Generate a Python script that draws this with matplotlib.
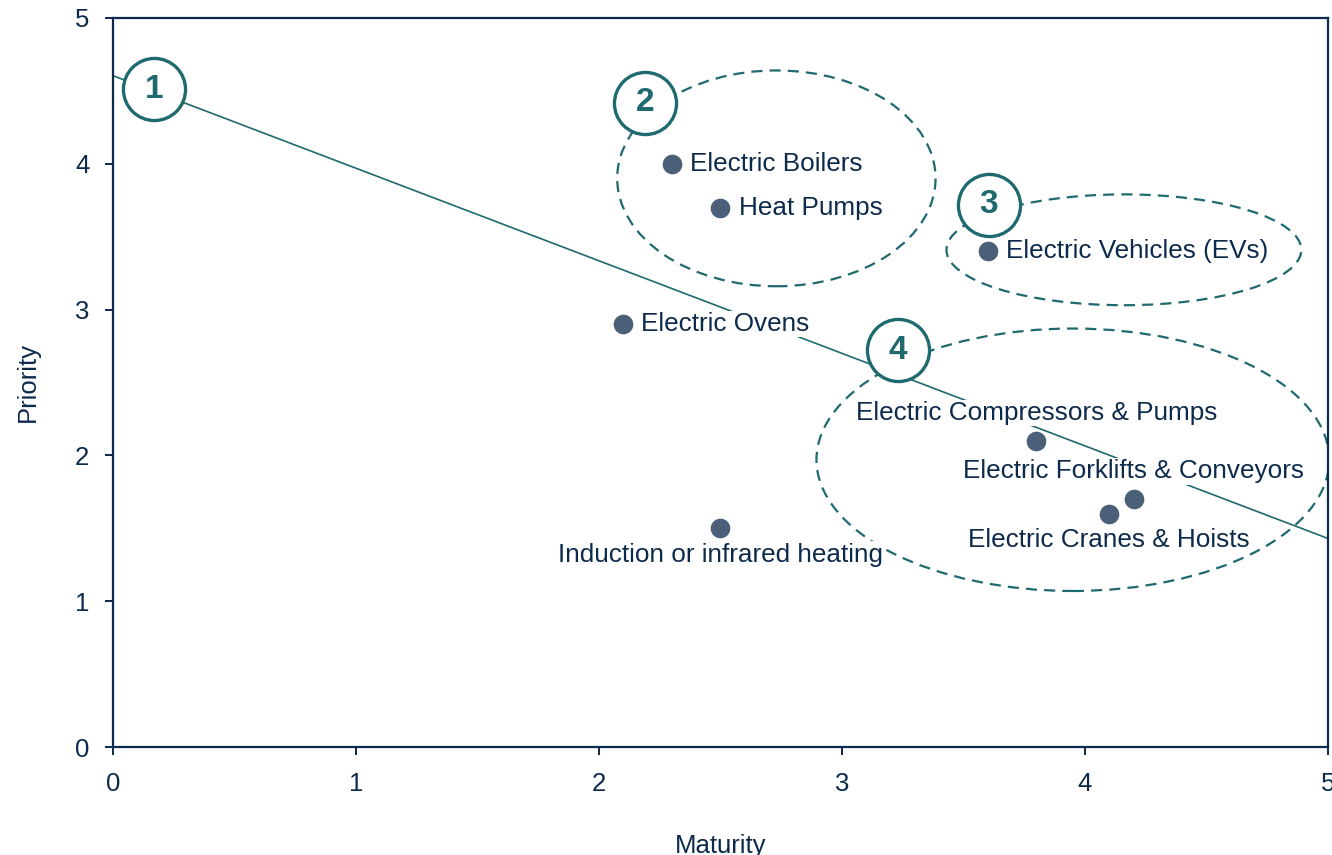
import matplotlib
matplotlib.use("Agg")
import matplotlib.pyplot as plt
from matplotlib.patches import Ellipse
import numpy as np

matplotlib.rcParams['font.family'] = ['Liberation Sans', 'DejaVu Sans']

NAVY = '#0c2a4b'
TEAL = '#1f6a6e'
DOT = '#4b6078'

# technologies: maturity (x) and priority (y)
names = ['Electric Boilers', 'Heat Pumps', 'Electric Vehicles (EVs)', 'Electric Ovens',
         'Electric Compressors & Pumps', 'Electric Forklifts & Conveyors',
         'Electric Cranes & Hoists', 'Induction or infrared heating']
maturity = [2.3, 2.5, 3.6, 2.1, 3.8, 4.2, 4.1, 2.5]
priority = [4.0, 3.7, 3.4, 2.9, 2.1, 1.7, 1.6, 1.5]
label_side = ['right', 'right', 'right', 'right', 'above', 'above', 'below', 'below']

# cluster outlines: centre x, centre y, width, height
cluster_cx = [2.73, 4.16, 3.95]
cluster_cy = [3.90, 3.41, 1.97]
cluster_w = [1.31, 1.46, 2.11]
cluster_h = [1.48, 0.76, 1.80]

# numbered markers
badge_nums = ['1', '2', '3', '4']
badge_x = [0.17, 2.19, 3.605, 3.23]
badge_y = [4.51, 4.42, 3.72, 2.72]

fig = plt.figure(figsize=(13.32, 8.55), dpi=100)
ax = fig.add_axes([0.0848, 0.1263, 0.9122, 0.8527])
ax.set_xlim(0, 5)
ax.set_ylim(0, 5)

# linear trend through the points
slope, intercept = np.polyfit(maturity, priority, 1)
xs = np.array([0, 5])
ax.plot(xs, intercept + slope * xs, color=TEAL, lw=1.2, zorder=2)

for cx, cy, w, h in zip(cluster_cx, cluster_cy, cluster_w, cluster_h):
    ax.add_patch(Ellipse((cx, cy), w, h, fill=False, edgecolor=TEAL, lw=1.6,
                         linestyle=(0, (5, 3.2)), zorder=2))

ax.scatter(maturity, priority, s=200, color=DOT, zorder=4, linewidths=0)

offsets = {'right': ((13, 0), 'left', 'center'),
           'above': ((0, 20), 'center', 'center'),
           'below': ((0, -19), 'center', 'center')}
for n, x, y, side in zip(names, maturity, priority, label_side):
    off, ha, va = offsets[side]
    ax.annotate(n, (x, y), xytext=off, textcoords='offset points', ha=ha, va=va,
                fontsize=18.8, color=NAVY, zorder=5,
                bbox=dict(boxstyle='square,pad=0.05', fc='white', ec='none'))

ax.scatter(badge_x, badge_y, s=2000, facecolor='white', edgecolor=TEAL,
           linewidths=2.4, zorder=6, clip_on=False)
for t, x, y in zip(badge_nums, badge_x, badge_y):
    ax.text(x, y, t, ha='center', va='center', fontsize=24, fontweight='bold',
            color=TEAL, zorder=7)

for sp in ax.spines.values():
    sp.set_color(NAVY)
    sp.set_linewidth(1.6)
ax.tick_params(colors=NAVY, labelcolor=NAVY, labelsize=18.5, length=6, width=1.4,
               direction='out')
ax.tick_params(axis='x', pad=12)
ax.tick_params(axis='y', pad=11)
ax.set_xticks(range(6))
ax.set_yticks(range(6))
ax.set_xlabel('Maturity', fontsize=18.5, color=NAVY, labelpad=27)
ax.set_ylabel('Priority', fontsize=18.5, color=NAVY, labelpad=25)

fig.savefig('out.png', dpi=100)
